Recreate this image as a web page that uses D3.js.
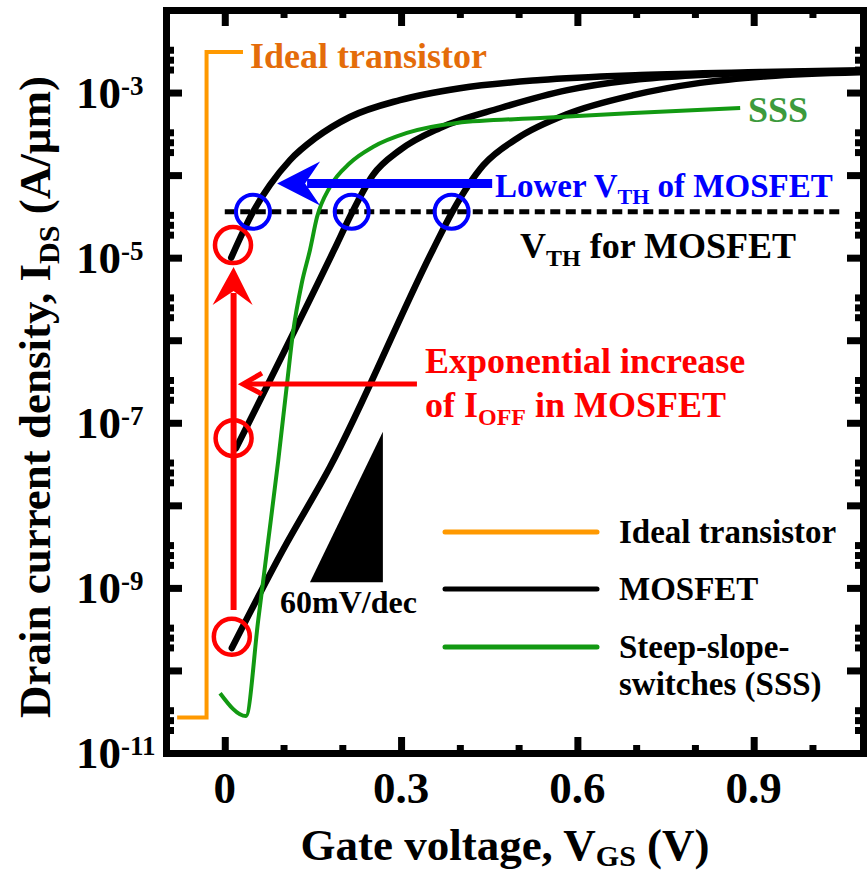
<!DOCTYPE html>
<html lang="en">
<head>
<meta charset="utf-8">
<title>Ideal transistor vs MOSFET vs SSS</title>
<script src="https://cdn.jsdelivr.net/npm/d3@7/dist/d3.min.js"></script>
<style>
  body { margin: 0; background: #fff; }
  svg text { font-family: "Liberation Serif", "Times New Roman", serif; font-weight: bold; }
  .frame .domain { stroke: #000; stroke-width: 7; stroke-linecap: square; }
  .frame .tick line { stroke: #000; stroke-width: 7; }
</style>
</head>
<body>
<svg width="867" height="875"></svg>
<script>
// ---- data (gate voltage V, drain current A/um) ----
var xMajor = [0, 0.3, 0.6, 0.9];
var xMinor = [0.1, 0.2, 0.4, 0.5, 0.7, 0.8, 1.0];
var xLabels = ["0", "0.3", "0.6", "0.9"];
var yDecades = [-11, -10, -9, -8, -7, -6, -5, -4, -3, -2];
var yLabelExp = [-3, -5, -7, -9, -11];
var yMinorMult = [1.9, 2.5, 3.3];

var idealV = [-0.081, -0.031, -0.031, 0.031];
var idealI = [2.7e-11, 2.7e-11, 3.1e-3, 3.1e-3];

var mosA_V = [0.011, 0.048, 0.077, 0.111, 0.154, 0.213, 0.298, 0.400, 0.537, 0.707, 0.911, 1.086];
var mosA_I = [1.0e-5, 3.57e-5, 7.6e-5, 1.52e-4, 2.8e-4, 5.06e-4, 8.1e-4, 1.13e-3, 1.42e-3, 1.63e-3, 1.77e-3, 1.87e-3];

var mosB_V = [0.019, 0.186, 0.217, 0.252, 0.298, 0.366, 0.469, 0.583, 0.695, 0.809, 0.979, 1.086];
var mosB_I = [4.9e-8, 1.24e-5, 3.57e-5, 1.0e-4, 2.01e-4, 3.72e-4, 6.5e-4, 1.07e-3, 1.42e-3, 1.63e-3, 1.77e-3, 1.82e-3];

var mosC_V = [0.012, 0.099, 0.179, 0.354, 0.387, 0.440, 0.498, 0.583, 0.695, 0.809, 0.923, 1.086];
var mosC_I = [1.87e-10, 2.88e-9, 2.91e-8, 1.24e-5, 3.57e-5, 1.32e-4, 2.8e-4, 5.5e-4, 9.3e-4, 1.31e-3, 1.58e-3, 1.77e-3];

var sssV = [-0.008, 0.036, 0.057, 0.072, 0.091, 0.106, 0.116, 0.131, 0.145, 0.157, 0.179, 0.213, 0.252, 0.310, 0.395, 0.537, 0.695, 0.877];
var sssI = [5.3e-11, 2.8e-11, 4.1e-10, 2.9e-9, 3.5e-8, 3.0e-7, 1.22e-6, 4.9e-6, 1.24e-5, 3.1e-5, 7.2e-5, 1.40e-4, 2.19e-4, 3.24e-4, 4.28e-4, 4.92e-4, 5.65e-4, 6.5e-4];

var vthI = 3.6e-5;
var vthRange = [0, 1.053];
var vthCircleV = [0.048, 0.216, 0.386];
var ioffV = [0.014, 0.015, 0.012];
var ioffI = [1.42e-5, 6.5e-8, 2.56e-10];
var slopeV = [0.145, 0.269];
var slopeI = [1.17e-9, 7.8e-8];

var svg = d3.select("svg");
var x = d3.scaleLinear().domain([-0.1, 1.086]).range([166, 863]);
var y = d3.scaleLog().domain([1e-11, 1e-2]).range([753, 10]);

var yMajor = yDecades.map(function(e) { return Math.pow(10, e); });
var yMinor = [];
yDecades.slice(0, -1).forEach(function(e) {
  yMinorMult.forEach(function(m) { yMinor.push(m * Math.pow(10, e)); });
});

svg.append("defs").append("clipPath").attr("id", "plotclip")
  .append("rect").attr("x", 170).attr("y", 13).attr("width", 690).attr("height", 737);

var plot = svg.append("g").attr("clip-path", "url(#plotclip)");

function pts(vs, is) { return vs.map(function(v, k) { return [v, is[k]]; }); }
var lineSmooth = d3.line().x(function(d) { return x(d[0]); }).y(function(d) { return y(d[1]); }).curve(d3.curveMonotoneX);
var lineStraight = d3.line().x(function(d) { return x(d[0]); }).y(function(d) { return y(d[1]); });

// threshold dashed line
plot.append("line")
  .attr("x1", x(vthRange[0])).attr("x2", x(vthRange[1]))
  .attr("y1", y(vthI)).attr("y2", y(vthI))
  .attr("stroke", "#000").attr("stroke-width", 5).attr("stroke-dasharray", "10,5.5");

// ideal transistor
plot.append("path").attr("d", lineStraight(pts(idealV, idealI)))
  .attr("fill", "none").attr("stroke", "#ff9900").attr("stroke-width", 4);

// MOSFET curves
[[mosA_V, mosA_I], [mosB_V, mosB_I], [mosC_V, mosC_I]].forEach(function(c) {
  plot.append("path").attr("d", lineSmooth(pts(c[0], c[1])))
    .attr("fill", "none").attr("stroke", "#000").attr("stroke-width", 6.5).attr("stroke-linecap", "round");
});

// SSS curve
plot.append("path").attr("d", lineSmooth(pts(sssV, sssI)))
  .attr("fill", "none").attr("stroke", "#129912").attr("stroke-width", 4).attr("stroke-linejoin", "miter");

// 60 mV/dec triangle
plot.append("path")
  .attr("d", lineStraight([[slopeV[0], slopeI[0]], [slopeV[1], slopeI[0]], [slopeV[1], slopeI[1]]]) + "Z")
  .attr("fill", "#000");

// red vertical arrow
var rvx = x(0.015), rvBottom = y(5.4e-10), rvTip = y(7.7e-6);
svg.append("line").attr("x1", rvx).attr("x2", rvx).attr("y1", rvBottom).attr("y2", rvTip + 26)
  .attr("stroke", "#ff0000").attr("stroke-width", 6);
svg.append("path")
  .attr("d", "M" + rvx + "," + rvTip + "L" + (rvx - 21) + "," + (rvTip + 38) + "L" + rvx + "," + (rvTip + 24) +
             "L" + (rvx + 19) + "," + (rvTip + 38) + "Z")
  .attr("fill", "#ff0000");

// red circles (I_OFF)
svg.selectAll(".ioff").data(pts(ioffV, ioffI)).enter().append("circle")
  .attr("cx", function(d) { return x(d[0]); }).attr("cy", function(d) { return y(d[1]); })
  .attr("r", 18).attr("fill", "none").attr("stroke", "#ff0000").attr("stroke-width", 4.5);

// blue circles (V_TH)
svg.selectAll(".vth").data(vthCircleV).enter().append("circle")
  .attr("cx", function(d) { return x(d); }).attr("cy", y(vthI))
  .attr("r", 17).attr("fill", "none").attr("stroke", "#0000ff").attr("stroke-width", 4);

// blue arrow
var bty = y(7.9e-5), btx = x(0.089), bend = x(0.455);
svg.append("line").attr("x1", bend).attr("x2", btx + 30).attr("y1", bty).attr("y2", bty)
  .attr("stroke", "#0000ff").attr("stroke-width", 9);
svg.append("path")
  .attr("d", "M" + btx + "," + bty + "L" + (btx + 43) + "," + (bty - 22) + "L" + (btx + 28) + "," + bty +
             "L" + (btx + 43) + "," + (bty + 22) + "Z")
  .attr("fill", "#0000ff");

// red horizontal arrow
var rhy = y(2.94e-7), rhTip = x(0.031), rhEnd = x(0.327);
svg.append("line").attr("x1", rhEnd).attr("x2", rhTip + 2).attr("y1", rhy).attr("y2", rhy)
  .attr("stroke", "#ff0000").attr("stroke-width", 5);
svg.append("path")
  .attr("d", "M" + (rhTip + 19) + "," + (rhy - 11) + "L" + rhTip + "," + rhy + "L" + (rhTip + 19) + "," + (rhy + 10))
  .attr("fill", "none").attr("stroke", "#ff0000").attr("stroke-width", 5);

// ---- frame and axes ----
var frame = svg.append("g").attr("class", "frame");
function axisPair(gen, tr, vals, size, keepDomain) {
  var g = frame.append("g").attr("transform", tr)
    .call(gen.tickValues(vals).tickSize(size).tickSizeOuter(0).tickFormat(""));
  if (!keepDomain) g.select(".domain").remove();
  return g;
}
axisPair(d3.axisBottom(x), "translate(0,753)", xMajor, -16, true);
axisPair(d3.axisBottom(x), "translate(0,753)", xMinor, -8, false);
axisPair(d3.axisTop(x), "translate(0,10)", xMajor, -16, true);
axisPair(d3.axisTop(x), "translate(0,10)", xMinor, -8, false);
axisPair(d3.axisLeft(y), "translate(166,0)", yMajor, -16, true);
axisPair(d3.axisLeft(y), "translate(166,0)", yMinor, -8, false);
axisPair(d3.axisRight(y), "translate(863,0)", yMajor, -16, true);
axisPair(d3.axisRight(y), "translate(863,0)", yMinor, -8, false);

// x tick labels
svg.selectAll(".xl").data(xMajor).enter().append("text")
  .attr("x", function(d) { return x(d); }).attr("y", 803)
  .attr("text-anchor", "middle").style("font-size", "45px")
  .text(function(d, k) { return xLabels[k]; });

// y tick labels 10^n
yLabelExp.forEach(function(e) {
  var t = svg.append("text").attr("x", 76).attr("y", y(Math.pow(10, e)) + 15).style("font-size", "45px");
  t.append("tspan").text("10");
  t.append("tspan").attr("dy", -13).style("font-size", "27px").text(String(e));
});

// axis titles
var xt = svg.append("text").attr("x", 505).attr("y", 860).attr("text-anchor", "middle").style("font-size", "45px");
xt.append("tspan").text("Gate voltage, V");
xt.append("tspan").attr("dy", 6).style("font-size", "30px").text("GS");
xt.append("tspan").attr("dy", -6).text(" (V)");

var yt = svg.append("text").attr("transform", "translate(50,397) rotate(-90)")
  .attr("text-anchor", "middle").style("font-size", "45px");
yt.append("tspan").text("Drain current density, I");
yt.append("tspan").attr("dy", 9).style("font-size", "30px").text("DS");
yt.append("tspan").attr("dy", -9).text(" (A/\u00b5m)");

// ---- annotations ----
svg.append("text").attr("x", 250).attr("y", 68).attr("fill", "#e46c0a").style("font-size", "36px").text("Ideal transistor");
svg.append("text").attr("x", 748).attr("y", 122).attr("fill", "#3c9a3c").style("font-size", "36px").text("SSS");

var lv = svg.append("text").attr("x", 495).attr("y", 197).attr("fill", "#0000ff").style("font-size", "33px");
lv.append("tspan").text("Lower V");
lv.append("tspan").attr("dy", 7).style("font-size", "22px").text("TH");
lv.append("tspan").attr("dy", -7).text(" of MOSFET");

var vt = svg.append("text").attr("x", 520).attr("y", 258).attr("fill", "#000").style("font-size", "36px");
vt.append("tspan").text("V");
vt.append("tspan").attr("dy", 8).style("font-size", "24px").text("TH");
vt.append("tspan").attr("dy", -8).text(" for MOSFET");

svg.append("text").attr("x", 425).attr("y", 373).attr("fill", "#ff0000").style("font-size", "36px").text("Exponential increase");
var io = svg.append("text").attr("x", 425).attr("y", 417).attr("fill", "#ff0000").style("font-size", "36px");
io.append("tspan").text("of I");
io.append("tspan").attr("dy", 8).style("font-size", "24px").text("OFF");
io.append("tspan").attr("dy", -8).text(" in MOSFET");

svg.append("text").attr("x", 280).attr("y", 613).style("font-size", "32px").text("60mV/dec");

// ---- legend ----
var legColors = ["#ff9900", "#000", "#129912"];
var legY = [532, 589, 647];
svg.selectAll(".legl").data(legColors).enter().append("line")
  .attr("x1", 445).attr("x2", 597)
  .attr("y1", function(d, k) { return legY[k]; }).attr("y2", function(d, k) { return legY[k]; })
  .attr("stroke", function(d) { return d; }).attr("stroke-width", 5).attr("stroke-linecap", "round");
var legText = [["Ideal transistor", 543], ["MOSFET", 600], ["Steep-slope-", 658], ["switches (SSS)", 695]];
legText.forEach(function(t) {
  svg.append("text").attr("x", 619).attr("y", t[1]).style("font-size", "33px").text(t[0]);
});
</script>
</body>
</html>
